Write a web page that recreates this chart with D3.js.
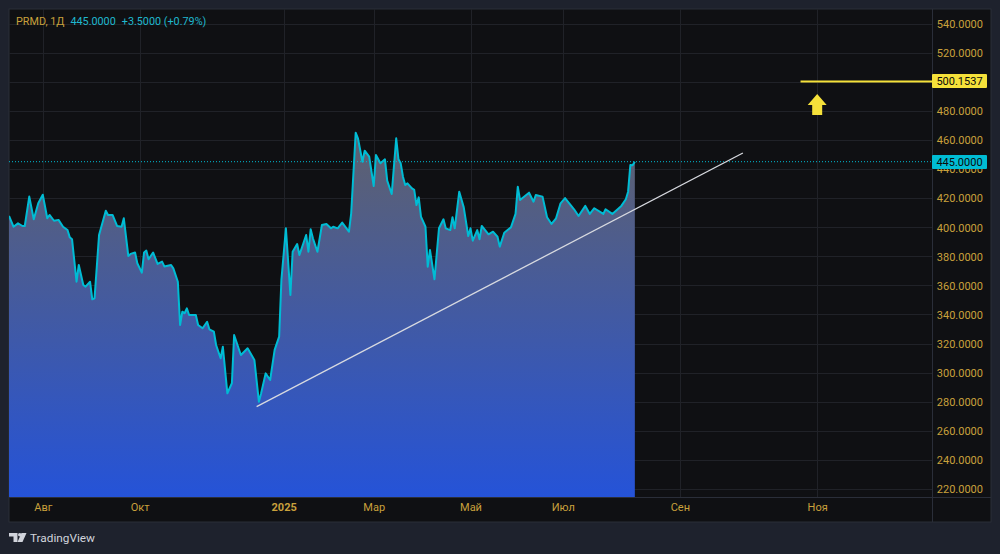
<!DOCTYPE html>
<html>
<head>
<meta charset="utf-8">
<script src="https://cdn.jsdelivr.net/npm/d3@7/dist/d3.min.js"></script>
<style>
  html, body { margin: 0; padding: 0; background: #1e222d; }
  svg { display: block; font-family: Roboto, "Liberation Sans", sans-serif; }
</style>
</head>
<body>
<svg width="1000" height="554"></svg>
<script>
// PRMD daily closes, bar index -> price (turning points)
const days = [0,2,4,6,7,9,11,13,15,17,18,20,22,24,26,27,28,30,31,33,34,36,37,38,40,43,44,46,48,50,
  51,53,54,56,57,59,60,61,62,64,66,68,69,72,73,75,76,77,78,79,80,83,84,86,88,89,91,92,94,95,
  97,99,100,103,106,109,111,112,114,116,118,120,121,123,125,126,128,129,130,132,133,134,135,137,139,141,143,144,146,148,
  151,152,154,155,157,158,160,162,163,165,167,168,170,172,173,174,175,176,177,179,180,181,182,183,185,186,187,189,191,193,
  194,196,197,198,200,202,204,205,206,208,209,210,213,215,217,218,220,223,225,226,227,231,233,234,237,239,241,243,245,247,
  251,253,256,258,260,264,265,268,272,274,275,276,277,278];
const closes = [407.7,400.3,402.6,400.8,400.8,421.0,405.4,416.4,422.3,406.1,408.4,404.4,405.0,400.3,398.0,393.0,391.7,362.5,374.0,360.2,359.1,362.5,350.4,351.1,394.6,411.3,408.4,408.4,400.8,400.3,
  406.1,380.2,381.6,382.6,375.2,368.7,382.6,383.9,377.9,382.6,374.7,376.3,373.0,374.0,371.7,362.5,332.7,341.9,340.8,344.2,339.6,339.6,332.7,330.5,335.0,329.8,328.2,319.0,309.9,317.8,
  285.8,292.7,325.9,312.1,316.7,308.7,280.0,285.8,299.5,294.9,315.6,324.7,363.7,399.2,353.4,383.1,388.4,380.9,385.4,394.6,383.1,398.5,392.3,383.1,401.5,402.2,399.2,400.3,399.2,403.1,
  396.9,409.5,464.9,461.1,445.0,452.6,448.5,428.3,449.6,443.9,446.6,432.0,422.8,461.1,446.6,443.9,434.7,429.0,430.1,426.7,425.6,415.2,420.5,407.2,400.3,372.8,384.3,364.2,399.2,405.4,
  399.2,398.0,406.8,399.2,424.4,413.6,393.9,399.2,390.7,398.0,391.7,400.8,395.1,396.9,393.4,386.6,396.2,400.0,409.1,427.8,418.7,423.7,417.5,422.1,421.0,406.8,402.2,406.1,416.4,420.0,
  412.3,407.7,414.6,409.1,413.0,409.1,412.3,409.1,414.6,419.2,424.4,442.7,442.5,445.0];

const priceTicks = [220,240,260,280,300,320,340,360,380,400,420,440,460,480,500,520,540];
const timeTickDays = [15,58,122,162,205,246,298,359];
const timeTickLabels = ["Авг","Окт","2025","Мар","Май","Июл","Сен","Ноя"];

const trendDays = [110, 326];
const trendValues = [276.6, 451.0];
const targetPrice = 500.1537;
const targetStartDay = 351.6;
const arrowDay = 359;
const arrowTip = 491.5;

const lastPrice = 445.0, change = 3.5, changePct = 0.79;

const svg = d3.select("svg");
const plotL = 9, plotR = 932, plotT = 9, plotB = 497;

const x = d3.scaleLinear().domain([0, 410]).range([plotL, plotR]);
const y = d3.scaleLinear().domain([220, 540]).range([489, 23.5]);

const data = days.map((d, i) => ({day: d, close: closes[i]}));

// panel
svg.append("rect").attr("x", 9).attr("y", 9).attr("width", 982).attr("height", 513)
  .attr("fill", "#0f1013").attr("stroke", "#2a2e39").attr("stroke-width", 1);

// grid
svg.append("g").selectAll("line").data(priceTicks).join("line")
  .attr("x1", plotL).attr("x2", plotR)
  .attr("y1", d => Math.round(y(d)) + 0.5).attr("y2", d => Math.round(y(d)) + 0.5)
  .attr("stroke", "#202228");
svg.append("g").selectAll("line").data(timeTickDays).join("line")
  .attr("x1", d => Math.round(x(d)) + 0.5).attr("x2", d => Math.round(x(d)) + 0.5)
  .attr("y1", plotT).attr("y2", plotB)
  .attr("stroke", "#202228");

// area fill
const defs = svg.append("defs");
const grad = defs.append("linearGradient").attr("id", "fillGrad")
  .attr("gradientUnits", "userSpaceOnUse")
  .attr("x1", 0).attr("x2", 0).attr("y1", y(d3.max(closes))).attr("y2", plotB);
grad.append("stop").attr("offset", "0%").attr("stop-color", "#5f616d");
grad.append("stop").attr("offset", "100%").attr("stop-color", "#2553d8");
defs.append("clipPath").attr("id", "plotClip").append("rect")
  .attr("x", plotL).attr("y", plotT).attr("width", plotR - plotL).attr("height", plotB - plotT);

const plot = svg.append("g").attr("clip-path", "url(#plotClip)");

plot.append("path").datum(data)
  .attr("fill", "url(#fillGrad)")
  .attr("d", d3.area().x(d => x(d.day)).y0(plotB).y1(d => y(d.close)));

plot.append("path").datum(data)
  .attr("fill", "none").attr("stroke", "#00bcd4").attr("stroke-width", 2)
  .attr("stroke-linejoin", "round")
  .attr("d", d3.line().x(d => x(d.day)).y(d => y(d.close)));

// last price dotted line
plot.append("line")
  .attr("x1", plotL).attr("x2", plotR)
  .attr("y1", y(lastPrice)).attr("y2", y(lastPrice))
  .attr("stroke", "#00bcd4").attr("stroke-width", 1).attr("stroke-dasharray", "1,2");

// trend line
plot.append("line")
  .attr("x1", x(trendDays[0])).attr("y1", y(trendValues[0]))
  .attr("x2", x(trendDays[1])).attr("y2", y(trendValues[1]))
  .attr("stroke", "#d8dae0").attr("stroke-width", 1.3);

// target horizontal ray
plot.append("line")
  .attr("x1", x(targetStartDay)).attr("x2", plotR)
  .attr("y1", y(targetPrice)).attr("y2", y(targetPrice))
  .attr("stroke", "#f5e13a").attr("stroke-width", 2);

// up arrow
const ax = x(arrowDay), ay = y(arrowTip);
plot.append("path")
  .attr("d", `M${ax},${ay} L${ax + 9.5},${ay + 11} L${ax + 5},${ay + 11} L${ax + 5},${ay + 21} L${ax - 5},${ay + 21} L${ax - 5},${ay + 11} L${ax - 9.5},${ay + 11} Z`)
  .attr("fill", "#f5e13a");

// axis separators
svg.append("line").attr("x1", plotR + 0.5).attr("x2", plotR + 0.5).attr("y1", plotT).attr("y2", 522)
  .attr("stroke", "#2a2e39");
svg.append("line").attr("x1", plotL).attr("x2", 991).attr("y1", plotB + 0.5).attr("y2", plotB + 0.5)
  .attr("stroke", "#2a2e39");

// price axis
const yAxis = svg.append("g").attr("transform", `translate(${983},0)`)
  .call(d3.axisLeft(y).tickValues(priceTicks).tickFormat(d3.format(".4f")).tickSize(0).tickPadding(0));
yAxis.select(".domain").remove();
yAxis.selectAll("text").attr("fill", "#c9a13c").attr("font-size", 11)
  .attr("font-family", "Roboto, sans-serif").attr("dy", "0.35em");

// time axis
const xAxis = svg.append("g").attr("transform", `translate(0,${503})`)
  .call(d3.axisBottom(x).tickValues(timeTickDays).tickFormat((d, i) => timeTickLabels[i]).tickSize(0).tickPadding(0));
xAxis.select(".domain").remove();
xAxis.selectAll("text").attr("fill", "#c9a13c").attr("font-size", 11)
  .attr("font-family", "Roboto, sans-serif")
  .attr("font-weight", (d, i) => timeTickLabels[i] === "2025" ? "bold" : "normal");

// price labels
function priceLabel(v, bg) {
  const g = svg.append("g");
  g.append("rect").attr("x", 932).attr("y", Math.round(y(v)) - 7).attr("width", 55).attr("height", 14)
    .attr("fill", bg).attr("rx", 1);
  g.append("text").attr("x", 959.5).attr("y", y(v)).attr("dy", "0.36em")
    .attr("text-anchor", "middle").attr("font-size", 11).attr("fill", "#0b0b0b")
    .text(d3.format(".4f")(v));
}
priceLabel(targetPrice, "#f5e13a");
priceLabel(lastPrice, "#00bcd4");

// legend
const legend = svg.append("text").attr("x", 16).attr("y", 25).attr("font-size", 10.8);
legend.append("tspan").attr("fill", "#c9a13c").text("PRMD, 1Д");
legend.append("tspan").attr("fill", "#1fb8cf").attr("dx", 6).text(d3.format(".4f")(lastPrice));
legend.append("tspan").attr("fill", "#1fb8cf").attr("dx", 6)
  .text(`+${d3.format(".4f")(change)} (+${changePct}%)`);

// TradingView logo
const logo = svg.append("g").attr("fill", "#d1d4dc");
logo.append("path").attr("d", "M9,533 H17.5 V542 H13.5 V536.5 H9 Z");
logo.append("circle").attr("cx", 19.8).attr("cy", 534.8).attr("r", 1.8);
logo.append("path").attr("d", "M21.5,533 H26.5 L22.5,542 H17.5 Z");
svg.append("text").attr("x", 30).attr("y", 542).attr("font-size", 11.8)
  .attr("fill", "#d1d4dc").attr("font-family", "Roboto, sans-serif").text("TradingView");
</script>
</body>
</html>
